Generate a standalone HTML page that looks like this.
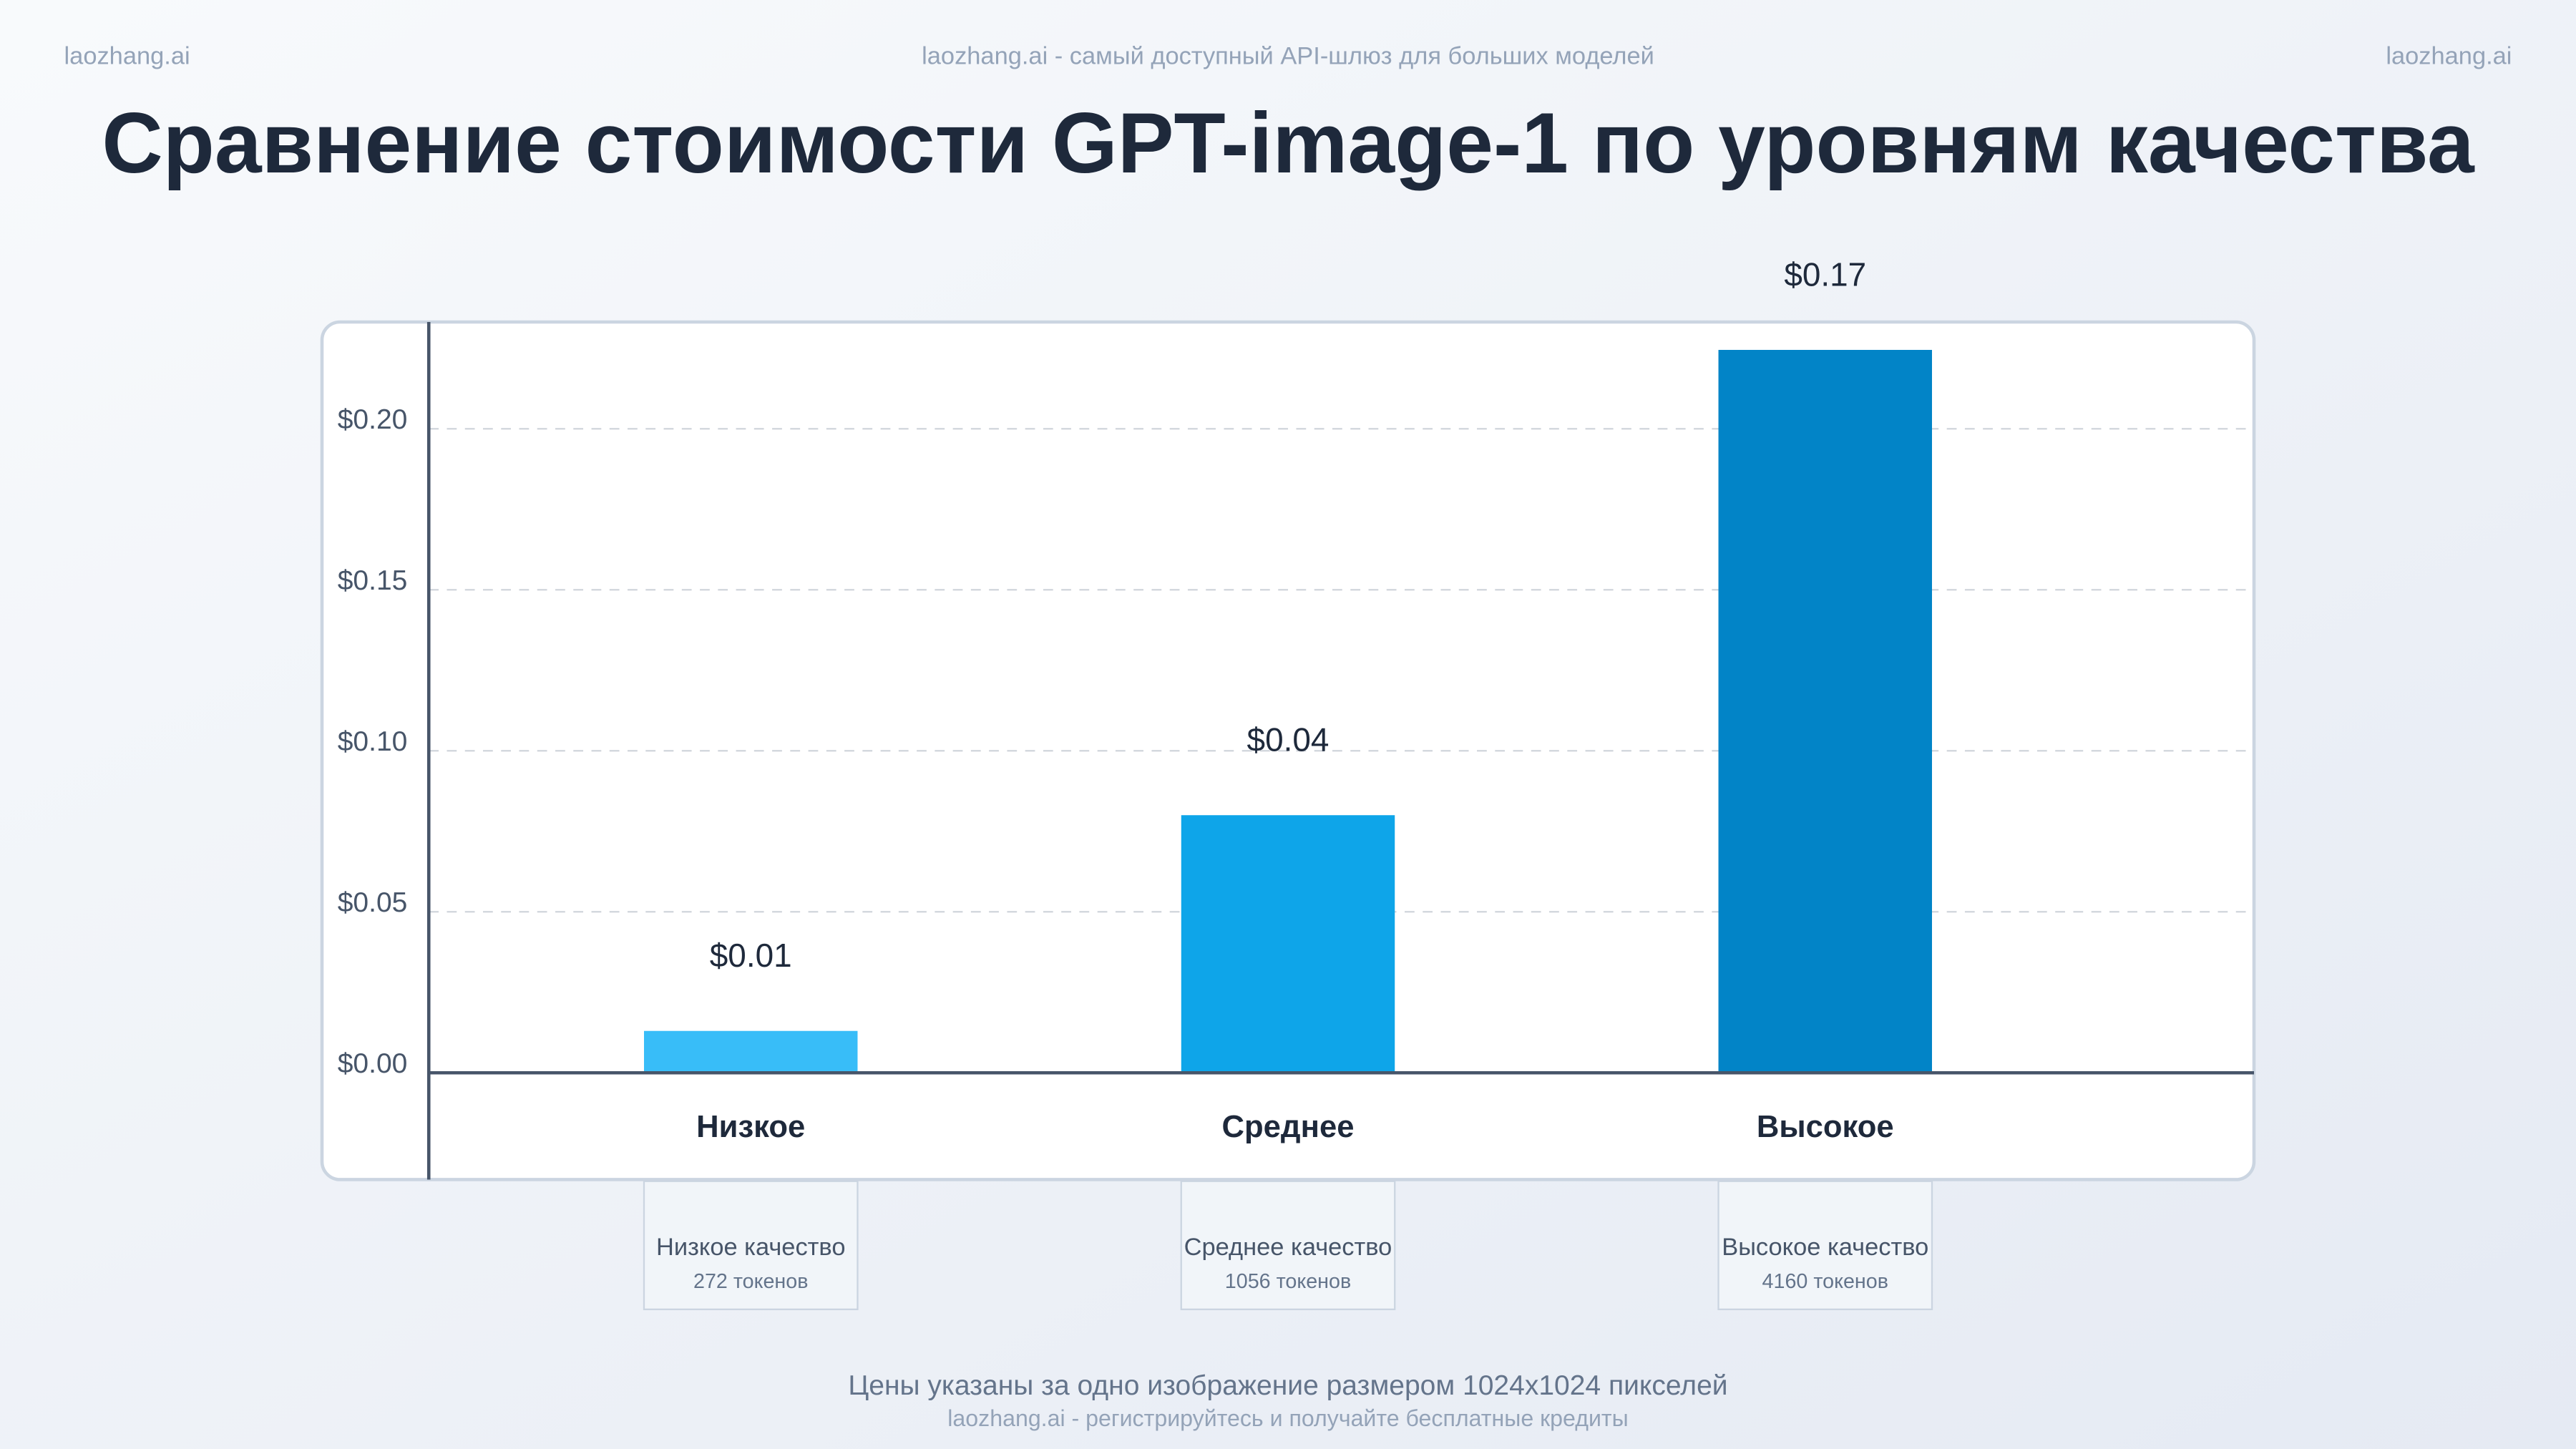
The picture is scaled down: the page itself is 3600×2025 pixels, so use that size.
<!DOCTYPE html>
<html><head><meta charset="utf-8"><style>
html,body{margin:0;padding:0;width:3600px;height:2025px;overflow:hidden;background:#f1f5f9}
svg{display:block;font-family:"Liberation Sans",sans-serif}
</style></head><body>
<svg width="3600" height="2025" viewBox="0 0 1568 882">
<defs><linearGradient id="bg" x1="0" y1="0" x2="1" y2="1"><stop offset="0" stop-color="#f8fafc"/><stop offset="1" stop-color="#e5eaf3"/></linearGradient></defs>
<rect width="1568" height="882" fill="url(#bg)"/>
<text x="39" y="39" font-size="15" fill="#94a3b8">laozhang.ai</text>
<text x="784" y="39" font-size="15" fill="#94a3b8" text-anchor="middle">laozhang.ai - самый доступный API-шлюз для больших моделей</text>
<text x="1529" y="39" font-size="15" fill="#94a3b8" text-anchor="end">laozhang.ai</text>
<text x="784" y="105" font-size="52" font-weight="bold" fill="#1e293b" text-anchor="middle" textLength="1444" lengthAdjust="spacingAndGlyphs">Сравнение стоимости GPT-image-1 по уровням качества</text>
<rect x="196" y="196" width="1176" height="522" rx="11" fill="#fff" stroke="#cbd5e1" stroke-width="2"/>
<g id="grid"></g>
<g id="bars"></g>
<line x1="261" y1="196" x2="261" y2="718" stroke="#475569" stroke-width="2"/>
<line x1="261" y1="653" x2="1372" y2="653" stroke="#475569" stroke-width="2"/>
<g id="labels"></g>
<text x="784" y="849" font-size="17" fill="#64748b" text-anchor="middle">Цены указаны за одно изображение размером 1024x1024 пикселей</text>
<text x="784" y="868" font-size="14" fill="#94a3b8" text-anchor="middle">laozhang.ai - регистрируйтесь и получайте бесплатные кредиты</text>
</svg>
<script>
const categories = ["Низкое", "Среднее", "Высокое"];
const values = [0.013, 0.08, 0.2245];
const valueLabels = ["$0.01", "$0.04", "$0.17"];
const boxTitles = ["Низкое качество", "Среднее качество", "Высокое качество"];
const tokenLabels = ["272 токенов", "1056 токенов", "4160 токенов"];
const tickValues = [0, 0.05, 0.10, 0.15, 0.20];
const tickLabels = ["$0.00", "$0.05", "$0.10", "$0.15", "$0.20"];
const colors = ["#38bdf8", "#0ea5e9", "#0284c7"];

const NS = "http://www.w3.org/2000/svg";
const y = v => 653 - v * 1960;
const x = i => 457 + i * 327;
const BW = 130;
function mk(tag, attrs, parent, text) {
  const e = document.createElementNS(NS, tag);
  for (const k in attrs) e.setAttribute(k, attrs[k]);
  if (text !== undefined) e.textContent = text;
  parent.appendChild(e);
  return e;
}
const grid = document.getElementById("grid");
const bars = document.getElementById("bars");
const labels = document.getElementById("labels");
tickValues.forEach((t, i) => {
  if (t > 0) {
    const l = mk("line", {x1: 261, x2: 1372, y1: y(t), y2: y(t), stroke: "#d1d5db", "stroke-width": 1, "stroke-dasharray": "6 5"}, grid);
    
    
  }
  const tx = mk("text", {x: 248, y: y(t) + 0, "font-size": 17, fill: "#475569", "text-anchor": "end"}, labels, tickLabels[i]);
  
  
});
categories.forEach((c, i) => {
  const top = y(values[i]);
  const r = mk("rect", {x: x(i) - BW / 2, y: top, width: BW, height: 653 - top, fill: colors[i]}, bars);
  
  
  const vl = mk("text", {x: x(i), y: top - 39, "font-size": 20, fill: "#1e293b", "text-anchor": "middle"}, labels, valueLabels[i]);
  
  
  const cl = mk("text", {x: x(i), y: 692, "font-size": 19, "font-weight": "bold", fill: "#1e293b", "text-anchor": "middle"}, labels, c);
  
  
  const bx = mk("rect", {x: x(i) - BW / 2, y: 719, width: BW, height: 78, fill: "#f1f5f9", stroke: "#cbd5e1", "stroke-width": 1}, labels);
  
  
  const bt = mk("text", {x: x(i), y: 764, "font-size": 15, fill: "#475569", "text-anchor": "middle"}, labels, boxTitles[i]);
  
  
  const tk = mk("text", {x: x(i), y: 784, "font-size": 12.5, fill: "#64748b", "text-anchor": "middle"}, labels, tokenLabels[i]);
  
  
});
</script>
</body></html>
